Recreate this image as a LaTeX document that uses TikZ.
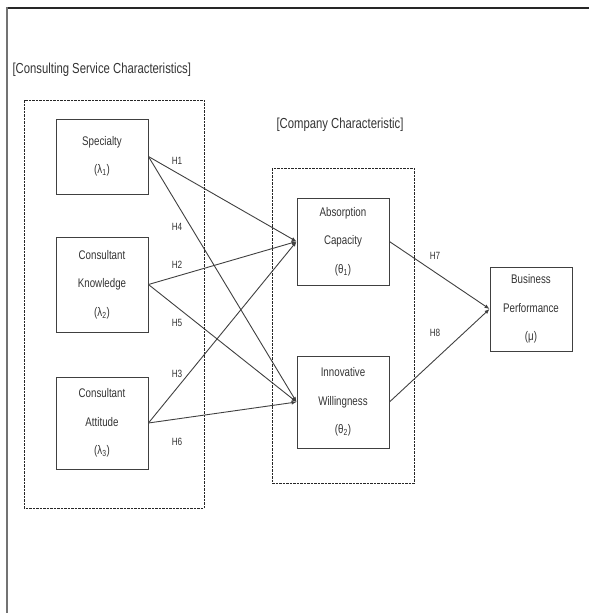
\documentclass[tikz,border=0pt]{standalone}
\usepackage{fontspec}
\setmainfont{Liberation Sans}[FakeStretch=0.78]
\usetikzlibrary{arrows.meta}
\begin{document}
\begin{tikzpicture}[x=1pt,y=-1pt,
  every node/.style={text=black!80},
  varbox/.style={draw=black!75, line width=0.9pt, minimum width=92pt, align=center, inner sep=0pt,
    font=\fontsize{12.5}{28.5}\selectfont},
  group/.style={draw=black!85, line width=1pt, dash pattern=on 2.5pt off 1pt},
  hyp/.style={font=\fontsize{10.5}{12}\selectfont},
  title/.style={font=\fontsize{14.5}{17}\selectfont},
  link/.style={draw=black!75, line width=0.9pt, -{Latex[length=5pt,width=4pt]}}
]
\useasboundingbox (0,0) rectangle (589,613);
% outer frame
\draw[black!85, line width=2.2pt] (6,8) -- (589,8);
\draw[black!55, line width=1.6pt] (7,7) -- (7,613);

% group frames
\draw[group] (24,100) rectangle (204,508);
\draw[group] (272,168) rectangle (414,483);
\node[title, anchor=west] (t1) at (9,70) {[Consulting Service Characteristics]};
\node[title] (t2) at (340,125) {[Company Characteristic]};

% variables
\node[varbox, minimum height=75pt] (spec) at (102,156.5) {Specialty\\(λ\textsubscript{1})};
\node[varbox, minimum height=95pt] (know) at (102,284.5) {Consultant\\Knowledge\\(λ\textsubscript{2})};
\node[varbox, minimum height=92pt] (att) at (102,423) {Consultant\\Attitude\\(λ\textsubscript{3})};
\node[varbox, minimum height=87pt] (abs) at (343,241.5) {Absorption\\Capacity\\(θ\textsubscript{1})};
\node[varbox, minimum height=92pt] (inn) at (343,402) {Innovative\\Willingness\\(θ\textsubscript{2})};
\node[varbox, minimum width=82pt, minimum height=84pt] (bp) at (531,309) {Business\\Performance\\(μ)};

% links
\draw[link] (spec.east) -- (abs.west);
\draw[link] (spec.east) -- (inn.west);
\draw[link] (know.east) -- (abs.west);
\draw[link] (know.east) -- (inn.west);
\draw[link] (att.east) -- (abs.west);
\draw[link] (att.east) -- (inn.west);
\draw[link] (abs.east) -- (bp.west);
\draw[link] (inn.east) -- (bp.west);

% hypothesis labels
\node[hyp] (h1) at (177,161) {H1};
\node[hyp] (h4) at (177,227) {H4};
\node[hyp] (h2) at (177,265) {H2};
\node[hyp] (h5) at (177,323) {H5};
\node[hyp] (h3) at (177,374) {H3};
\node[hyp] (h6) at (177,442) {H6};
\node[hyp] (h7) at (435,256) {H7};
\node[hyp] (h8) at (435,333) {H8};
\end{tikzpicture}
\end{document}
